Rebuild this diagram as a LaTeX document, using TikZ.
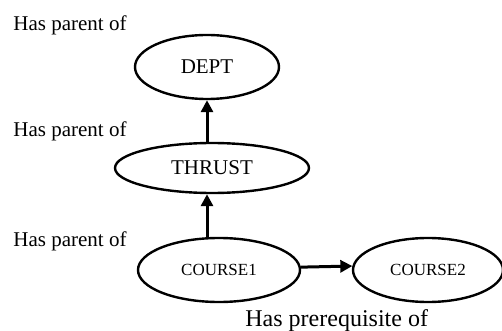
\documentclass[tikz,border=0pt]{standalone}
\usepackage{fontspec}
\setmainfont{Liberation Serif}
\usetikzlibrary{shapes.geometric,arrows.meta}
\tikzset{
    entity/.style={draw,ellipse,line width=1.2pt,inner sep=0pt},
    relname/.style={anchor=base west,inner sep=0pt,font=\fontsize{10.5}{12}\selectfont},
    link/.style={line width=1.5pt,-{Triangle[length=6pt,width=6pt]}}
}
\begin{document}
\begin{tikzpicture}[x=0.5pt,y=-0.5pt]
        \useasboundingbox (0,0) rectangle (502,331);

        \node[entity,minimum width=72pt,minimum height=32pt,font=\fontsize{10.5}{12}\selectfont] (dept) at (207,67) {DEPT};
        \node[entity,minimum width=97pt,minimum height=25pt,font=\fontsize{10.5}{12}\selectfont] (thrust) at (212,168) {THRUST};
        \node[entity,minimum width=81pt,minimum height=32pt,font=\fontsize{8.5}{10}\selectfont] (course1) at (219,270) {COURSE1};
        \node[entity,minimum width=75pt,minimum height=32pt,font=\fontsize{8.5}{10}\selectfont] (course2) at (428,270) {COURSE2};

        \node[relname] (parent1) at (13,31) {Has parent of};
        \node[relname] (parent2) at (13,137) {Has parent of};
        \node[relname] (parent3) at (13,246) {Has parent of};
        \node[relname,font=\fontsize{12}{14}\selectfont] (prereq) at (245,326) {Has prerequisite of};

        \draw[link] (thrust.north -| dept.south) -- (dept.south);
        \draw[link] (course1.north -| dept.south) -- (thrust.south -| dept.south);
        \draw[link] (course1.2.5) -- (course2.177.3);

    \end{tikzpicture}
\end{document}
